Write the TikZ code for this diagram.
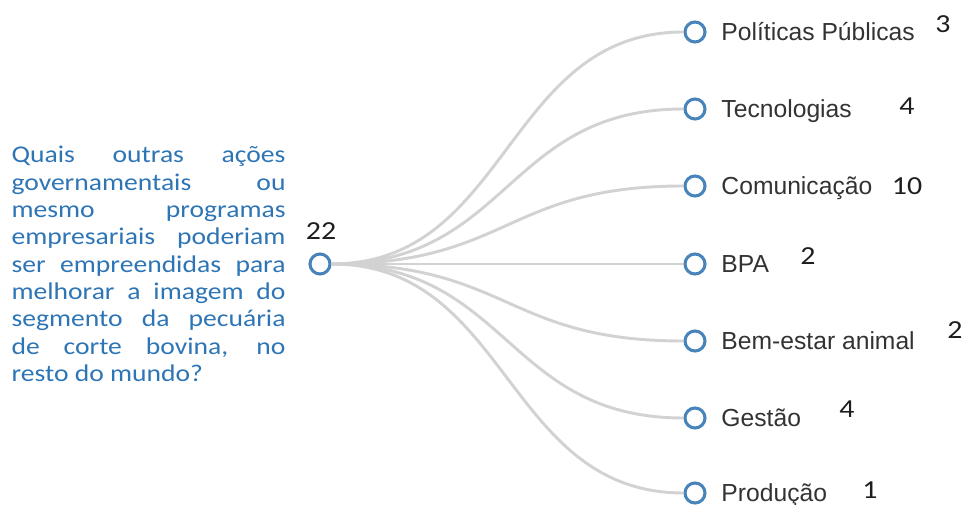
\documentclass[tikz,border=0pt]{standalone}
\usepackage{fontspec}
\setmainfont{Liberation Sans}
\newfontfamily\qwidefont[FakeStretch=1.15]{Carlito}
\usetikzlibrary{positioning}
\definecolor{qblue}{RGB}{46,117,182}
\definecolor{ringblue}{RGB}{72,132,186}
\definecolor{linkgray}{RGB}{210,210,210}
\definecolor{labelgray}{RGB}{51,51,51}
\definecolor{countblack}{RGB}{30,30,30}
\newcommand\qsetup{\qwidefont\fontsize{18}{20.5}\selectfont\tolerance=10000\relax\hbadness=10000\relax}

\begin{document}
\begin{tikzpicture}[
    x=0.75pt, y=-0.75pt,
    ring/.style={
        circle,
        draw=ringblue,
        fill=white,
        line width=2.3pt,
        inner sep=0pt,
        minimum size=15pt
    },
    lbl/.style={
        inner sep=0pt,
        text height=13.2pt,
        text depth=0pt,
        text=labelgray,
        font=\fontsize{18.5}{22}\selectfont
    },
    count/.style={
        anchor=base,
        inner sep=0pt,
        text=countblack,
        font=\qwidefont\fontsize{19.5}{22}\selectfont
    },
    question/.style={
        inner sep=0pt,
        text width=205.5pt,
        align=justify,
        text=qblue,
        font=\qsetup
    },
    link/.style={
        draw=linkgray,
        line width=2.2pt
    }
]
\useasboundingbox (0,0) rectangle (963,505);

% Nodes
\node (root) [ring] at (320,264) {};
\node (ask) [question, left=17pt of root] {Quais outras ações\linebreak governamentais ou\linebreak mesmo programas\linebreak empresariais poderiam\linebreak ser empreendidas para\linebreak melhorar a imagem do\linebreak segmento da pecuária\linebreak de corte bovina, no\linebreak resto do mundo?};
\node (croot) [count] at (321,240) {22};

\node (pol) [ring] at (695,32) {};
\node (tec) [ring] at (695,109) {};
\node (com) [ring] at (695,186) {};
\node (bpa) [ring] at (695,264) {};
\node (bem) [ring] at (695,341) {};
\node (ges) [ring] at (695,418) {};
\node (pro) [ring] at (695,493) {};

\node (polt) [lbl, right=11pt of pol] {Políticas Públicas};
\node (tect) [lbl, right=11pt of tec] {Tecnologias};
\node (comt) [lbl, right=11pt of com] {Comunicação};
\node (bpat) [lbl, right=11pt of bpa] {BPA};
\node (bemt) [lbl, right=11pt of bem] {Bem-estar animal};
\node (gest) [lbl, right=11pt of ges] {Gestão};
\node (prot) [lbl, right=11pt of pro] {Produção};

\node (cpol) [count] at (943,33) {3};
\node (ctec) [count] at (907,115) {4};
\node (ccom) [count] at (907,195) {10};
\node (cbpa) [count] at (808,265) {2};
\node (cbem) [count] at (955,339) {2};
\node (cges) [count] at (847,417) {4};
\node (cpro) [count] at (870,498) {1};

% Paths
\draw [link] (root.east) .. controls +(178,0) and +(-178,0) .. (pol.west);
\draw [link] (root.east) .. controls +(178,0) and +(-178,0) .. (tec.west);
\draw [link] (root.east) .. controls +(178,0) and +(-178,0) .. (com.west);
\draw [link] (root.east) -- (bpa.west);
\draw [link] (root.east) .. controls +(178,0) and +(-178,0) .. (bem.west);
\draw [link] (root.east) .. controls +(178,0) and +(-178,0) .. (ges.west);
\draw [link] (root.east) .. controls +(178,0) and +(-178,0) .. (pro.west);

\end{tikzpicture}
\end{document}
